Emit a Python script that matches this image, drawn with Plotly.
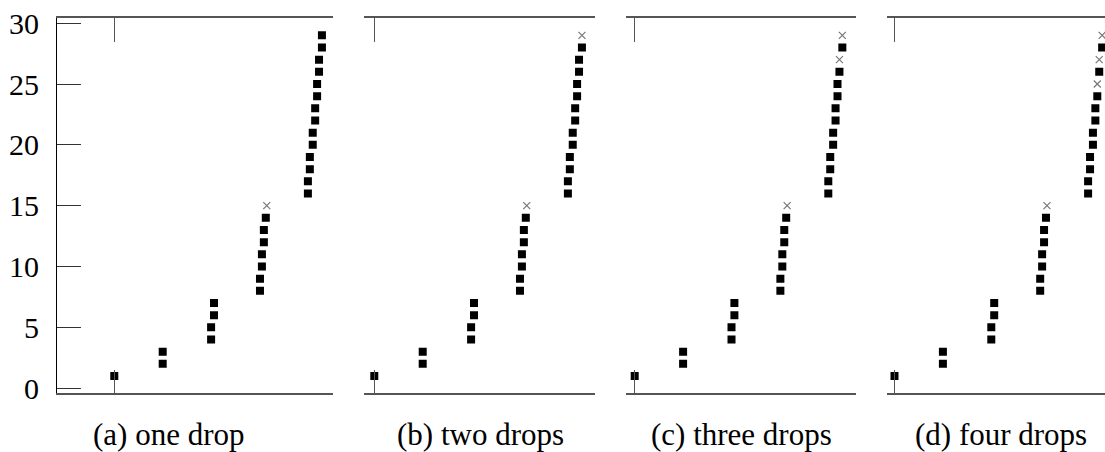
import plotly.graph_objects as go

# ---- data ----
y_values = [1, 2, 3, 4, 5, 6, 7, 8, 9, 10, 11, 12, 13, 14, 15,
            16, 17, 18, 19, 20, 21, 22, 23, 24, 25, 26, 27, 28, 29]
x_values = [0.0,
            1.0, 1.0,
            2.0, 2.0, 2.06, 2.06,
            3.01, 3.01, 3.05, 3.05, 3.09, 3.09, 3.13, 3.15,
            4.0, 4.0, 4.04, 4.04, 4.10, 4.10, 4.15, 4.15, 4.19, 4.19,
            4.23, 4.23, 4.29, 4.29]
panel_captions = ["(a) one drop", "(b) two drops", "(c) three drops", "(d) four drops"]
dropped = [[15], [15, 29], [15, 27, 29], [15, 25, 27, 29]]
y_tick_values = [0, 5, 10, 15, 20, 25, 30]
x_tick_values = [0]

# ---- layout geometry (pixels) ----
W, H = 1105, 452
panel_px = [(57, 332.5), (364, 595), (626, 856), (887, 1105)]
origin_px = [114.3, 374.3, 634.7, 894.5]
px_per_unit = 48.4
plot_top, plot_bottom = 18.3, 393.3
y_range = [-0.42, 30.40]
caption_center_px = [169, 480, 741, 1001]

FONT = ("Liberation Serif, Tinos, Times New Roman, Nimbus Roman, FreeSerif, "
        "Noto Serif, DejaVu Serif, serif")
fig = go.Figure()

for i in range(4):
    n = i + 1
    xa = "x" if n == 1 else f"x{n}"
    ya = "y" if n == 1 else f"y{n}"
    drops = dropped[i]
    sq_x = [x for x, y in zip(x_values, y_values) if y not in drops]
    sq_y = [y for y in y_values if y not in drops]
    cr_x = [x for x, y in zip(x_values, y_values) if y in drops]
    cr_y = [y for y in y_values if y in drops]
    fig.add_trace(go.Scatter(x=sq_x, y=sq_y, mode="markers", xaxis=xa, yaxis=ya,
                             marker=dict(symbol="square", size=8, color="black",
                                         line=dict(width=0)),
                             showlegend=False, hoverinfo="skip"))
    fig.add_trace(go.Scatter(x=cr_x, y=cr_y, mode="markers", xaxis=xa, yaxis=ya,
                             marker=dict(symbol="x-thin", size=7, color="#777",
                                         line=dict(width=1.2, color="#777")),
                             showlegend=False, hoverinfo="skip"))

    l, r = panel_px[i]
    o = origin_px[i]
    xr = [(l - o) / px_per_unit, (r - o) / px_per_unit]
    xkey = "xaxis" if n == 1 else f"xaxis{n}"
    ykey = "yaxis" if n == 1 else f"yaxis{n}"
    fig.layout[xkey] = dict(domain=[l / W, r / W], range=xr, anchor=ya,
                            showline=True, linecolor="#555", linewidth=1.5,
                            mirror="ticks", ticks="inside", ticklen=24,
                            tickcolor="#555", tickwidth=1.3,
                            tickvals=x_tick_values, showticklabels=False,
                            showgrid=False, zeroline=False, fixedrange=True,
                            automargin=False)
    ydom = [(H - plot_bottom) / H, (H - plot_top) / H]
    if n == 1:
        fig.layout[ykey] = dict(domain=ydom, range=y_range, anchor=xa,
                                showline=True, linecolor="black", linewidth=1.2,
                                ticks="inside", ticklen=24, tickcolor="#333",
                                tickwidth=1.2, tickvals=y_tick_values,
                                ticklabelstandoff=11,
                                tickfont=dict(family=FONT, size=30, color="black"),
                                showgrid=False, zeroline=False, fixedrange=True,
                                automargin=False)
    else:
        fig.layout[ykey] = dict(domain=ydom, range=y_range, anchor=xa,
                                showline=False, ticks="", showticklabels=False,
                                showgrid=False, zeroline=False, fixedrange=True,
                                automargin=False)
    fig.add_annotation(text=panel_captions[i], xref="paper", yref="paper",
                       x=caption_center_px[i] / W, y=(H - 434) / H,
                       xanchor="center", yanchor="middle", showarrow=False,
                       font=dict(family=FONT, size=31, color="black"))

fig.update_layout(width=W, height=H, margin=dict(l=0, r=0, t=0, b=0),
                  paper_bgcolor="white", plot_bgcolor="white",
                  font=dict(family=FONT))

fig.write_html("out.html")
